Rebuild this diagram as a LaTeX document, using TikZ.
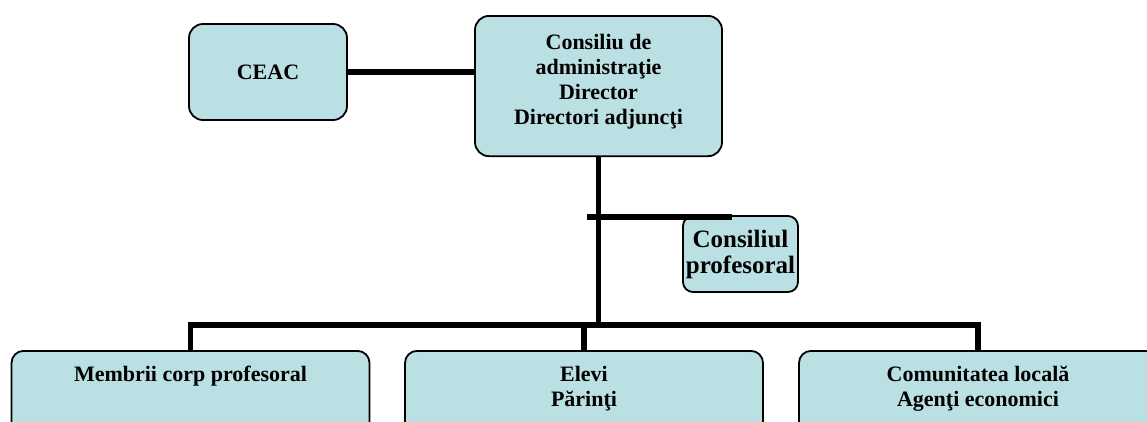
\documentclass[tikz,border=0pt]{standalone}
\usepackage{fontspec}
\setmainfont{Liberation Serif}
\usetikzlibrary{positioning}
\definecolor{unitfill}{RGB}{187,224,227}

\begin{document}
\begin{tikzpicture}[x=1pt, y=-1pt,
    unit/.style={draw, line width=1.8pt, fill=unitfill, rounded corners=14pt, align=center,
        font=\bfseries\fontsize{22}{25}\selectfont, inner sep=0pt},
    lowunit/.style={unit, anchor=north, minimum width=358pt, inner ysep=15pt, text depth=60pt, rounded corners=12pt},
    link/.style={line width=5.5pt, line join=miter}]
    \useasboundingbox (0,0) rectangle (1147,421);
    \clip (0,0) rectangle (1147,421);

    % Conducere
    \node (admin) at (598.5,15) [unit, anchor=north, minimum width=247pt, inner ysep=18pt, text depth=14pt]
        {Consiliu de\\administraţie\\Director\\Directori adjuncţi};
    \node (ceac) at (268,72) [unit, minimum width=158pt, minimum height=96pt] {CEAC};
    \node (prof) at (740.5,254) [unit, minimum width=115pt, minimum height=76pt, rounded corners=10pt,
        font=\bfseries\fontsize{25}{26}\selectfont] {Consiliul\\profesoral};

    % Nivelul de jos
    \node (membrii) at (190.5,350) [lowunit] {Membrii corp profesoral};
    \node (elevi) at (584,350) [lowunit] {Elevi\\Părinţi};
    \node (comunitate) at (978,350) [lowunit] {Comunitatea locală\\Agenţi economici};

    % Legaturi
    \coordinate (bar) at (598.5,325);
    \coordinate (branch) at (587,217);
    \coordinate (branchend) at (732,217);
    \draw[link] (ceac.east) -- (ceac.east -| admin.west);
    \draw[link] (admin.south) -- (bar);
    \draw[link] (branch) -- (branchend);
    \draw[link] (membrii.north) -- (membrii.north |- bar) -- (comunitate.north |- bar) -- (comunitate.north);
    \draw[link] (elevi.north |- bar) -- (elevi.north);
\end{tikzpicture}
\end{document}
